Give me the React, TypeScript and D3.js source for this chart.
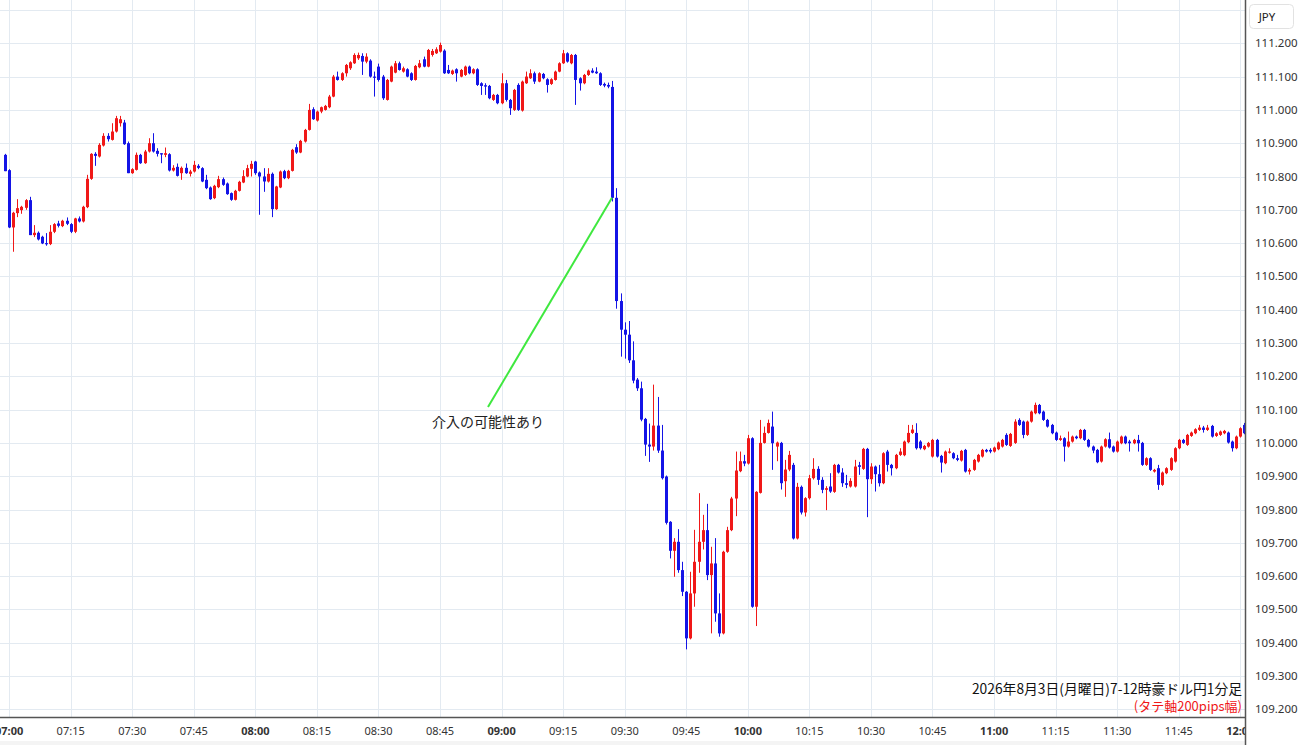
import { useEffect, useRef } from 'react';
import * as d3 from 'd3';

// one bar = [open, high, low, close], 1 minute each
type Bar = [number, number, number, number];

// first bar is 06:59, then 07:00 ... 07:59
const bars07: Bar[] = [
  [110.865, 110.868, 110.816, 110.816], [110.819, 110.822, 110.645, 110.647], [110.647, 110.694, 110.574, 110.691],
  [110.690, 110.732, 110.678, 110.705], [110.699, 110.712, 110.688, 110.709], [110.706, 110.732, 110.700, 110.729],
  [110.729, 110.739, 110.624, 110.624], [110.624, 110.654, 110.618, 110.631], [110.631, 110.635, 110.608, 110.611],
  [110.619, 110.622, 110.597, 110.599], [110.600, 110.630, 110.592, 110.597], [110.597, 110.654, 110.594, 110.634],
  [110.634, 110.660, 110.630, 110.657], [110.659, 110.667, 110.647, 110.652], [110.651, 110.670, 110.648, 110.667],
  [110.667, 110.677, 110.654, 110.658], [110.657, 110.660, 110.630, 110.634], [110.634, 110.676, 110.630, 110.674],
  [110.674, 110.680, 110.662, 110.665], [110.665, 110.712, 110.662, 110.709], [110.708, 110.805, 110.705, 110.793],
  [110.793, 110.870, 110.790, 110.868], [110.868, 110.873, 110.832, 110.862], [110.860, 110.900, 110.857, 110.895],
  [110.893, 110.930, 110.890, 110.922], [110.922, 110.930, 110.905, 110.912], [110.910, 110.960, 110.908, 110.935],
  [110.935, 110.982, 110.932, 110.975], [110.960, 110.982, 110.950, 110.972], [110.962, 110.970, 110.895, 110.897],
  [110.900, 110.905, 110.810, 110.810], [110.810, 110.825, 110.808, 110.822], [110.820, 110.872, 110.818, 110.865],
  [110.865, 110.868, 110.838, 110.840], [110.840, 110.880, 110.838, 110.875], [110.875, 110.915, 110.872, 110.900],
  [110.900, 110.930, 110.872, 110.875], [110.877, 110.885, 110.860, 110.868], [110.870, 110.870, 110.840, 110.866],
  [110.865, 110.887, 110.858, 110.870], [110.867, 110.870, 110.815, 110.818], [110.818, 110.834, 110.815, 110.826],
  [110.829, 110.839, 110.800, 110.802], [110.810, 110.830, 110.790, 110.826], [110.826, 110.839, 110.808, 110.810],
  [110.808, 110.820, 110.800, 110.815], [110.815, 110.847, 110.812, 110.835], [110.832, 110.837, 110.822, 110.826],
  [110.825, 110.828, 110.783, 110.785], [110.790, 110.805, 110.762, 110.765], [110.767, 110.770, 110.730, 110.732],
  [110.735, 110.775, 110.732, 110.772], [110.768, 110.802, 110.765, 110.792], [110.792, 110.797, 110.772, 110.775],
  [110.779, 110.782, 110.745, 110.747], [110.750, 110.752, 110.727, 110.730], [110.730, 110.760, 110.728, 110.757],
  [110.757, 110.787, 110.755, 110.784], [110.782, 110.819, 110.780, 110.801], [110.800, 110.835, 110.798, 110.825],
  [110.823, 110.847, 110.800, 110.838],
];

const bars08: Bar[] = [
  [110.845, 110.847, 110.805, 110.810], [110.812, 110.815, 110.685, 110.800], [110.800, 110.825, 110.754, 110.785],
  [110.785, 110.825, 110.782, 110.808], [110.808, 110.812, 110.678, 110.702], [110.702, 110.772, 110.700, 110.770],
  [110.767, 110.818, 110.765, 110.815], [110.816, 110.820, 110.792, 110.795], [110.795, 110.820, 110.792, 110.817],
  [110.817, 110.883, 110.815, 110.880], [110.888, 110.897, 110.868, 110.872], [110.872, 110.910, 110.870, 110.907],
  [110.905, 110.943, 110.902, 110.940], [110.940, 111.018, 110.938, 111.000], [111.002, 111.008, 110.970, 110.972],
  [110.968, 110.998, 110.965, 110.995], [110.995, 111.010, 110.990, 111.008], [111.000, 111.015, 110.998, 111.012],
  [111.008, 111.045, 111.005, 111.040], [111.040, 111.105, 111.038, 111.100], [111.100, 111.115, 111.088, 111.090],
  [111.090, 111.113, 111.087, 111.110], [111.110, 111.138, 111.100, 111.135], [111.125, 111.146, 111.120, 111.143],
  [111.140, 111.170, 111.138, 111.165], [111.155, 111.172, 111.150, 111.165], [111.162, 111.170, 111.105, 111.145],
  [111.145, 111.170, 111.140, 111.160], [111.148, 111.152, 111.097, 111.100], [111.100, 111.115, 111.040, 111.097],
  [111.130, 111.139, 111.085, 111.090], [111.100, 111.105, 111.030, 111.035], [111.030, 111.093, 111.028, 111.090],
  [111.085, 111.133, 111.083, 111.130], [111.112, 111.147, 111.110, 111.140], [111.140, 111.145, 111.118, 111.120],
  [111.115, 111.130, 111.112, 111.125], [111.122, 111.125, 111.098, 111.100], [111.110, 111.113, 111.087, 111.090],
  [111.090, 111.135, 111.088, 111.132], [111.128, 111.150, 111.125, 111.140], [111.152, 111.160, 111.128, 111.130],
  [111.130, 111.183, 111.128, 111.180], [111.165, 111.183, 111.160, 111.177], [111.170, 111.188, 111.168, 111.182],
  [111.175, 111.202, 111.172, 111.195], [111.178, 111.182, 111.108, 111.110], [111.120, 111.135, 111.108, 111.110],
  [111.108, 111.121, 111.105, 111.118], [111.122, 111.125, 111.085, 111.110], [111.100, 111.123, 111.098, 111.120],
  [111.105, 111.133, 111.102, 111.130], [111.130, 111.133, 111.107, 111.110], [111.110, 111.125, 111.107, 111.122],
  [111.122, 111.125, 111.072, 111.075], [111.080, 111.083, 111.045, 111.072], [111.074, 111.080, 111.045, 111.070],
  [111.072, 111.075, 111.032, 111.035], [111.030, 111.048, 111.027, 111.045], [111.045, 111.048, 111.017, 111.020],
];

const bars09: Bar[] = [
  [111.020, 111.110, 111.017, 111.080], [111.080, 111.090, 111.025, 111.030], [111.030, 111.033, 110.985, 111.005],
  [111.000, 111.063, 110.997, 111.060], [111.075, 111.080, 110.997, 111.000], [110.998, 111.088, 110.995, 111.085],
  [111.080, 111.115, 111.078, 111.100], [111.095, 111.122, 111.093, 111.110], [111.110, 111.115, 111.078, 111.085],
  [111.085, 111.113, 111.083, 111.110], [111.108, 111.111, 111.092, 111.095], [111.092, 111.095, 111.052, 111.075],
  [111.078, 111.095, 111.075, 111.092], [111.090, 111.118, 111.088, 111.115], [111.115, 111.143, 111.113, 111.140],
  [111.140, 111.180, 111.138, 111.170], [111.170, 111.173, 111.142, 111.145], [111.140, 111.168, 111.137, 111.165],
  [111.165, 111.168, 111.015, 111.090], [111.095, 111.098, 111.058, 111.080], [111.080, 111.108, 111.077, 111.105],
  [111.105, 111.121, 111.102, 111.118], [111.118, 111.125, 111.110, 111.112], [111.115, 111.128, 111.108, 111.110],
  [111.110, 111.113, 111.072, 111.075], [111.078, 111.082, 111.068, 111.073], [111.075, 111.082, 111.065, 111.070],
  [111.069, 111.087, 110.725, 110.736], [110.736, 110.765, 110.403, 110.426], [110.426, 110.449, 110.259, 110.340],
  [110.340, 110.362, 110.253, 110.325], [110.325, 110.366, 110.240, 110.248], [110.248, 110.305, 110.179, 110.187],
  [110.190, 110.195, 110.156, 110.164], [110.164, 110.184, 110.065, 110.070], [110.072, 110.075, 109.961, 109.995],
  [109.995, 110.058, 109.943, 109.989], [109.989, 110.175, 109.977, 110.052], [110.052, 110.138, 109.970, 109.977],
  [109.977, 110.054, 109.890, 109.894], [109.899, 109.902, 109.755, 109.760], [109.763, 109.765, 109.653, 109.676],
  [109.676, 109.714, 109.598, 109.703], [109.703, 109.741, 109.610, 109.618], [109.618, 109.643, 109.540, 109.553],
  [109.553, 109.555, 109.380, 109.413], [109.413, 109.613, 109.410, 109.548], [109.548, 109.739, 109.508, 109.643],
  [109.643, 109.849, 109.610, 109.703], [109.703, 109.784, 109.680, 109.738], [109.738, 109.817, 109.588, 109.603],
  [109.603, 109.688, 109.428, 109.638], [109.638, 109.714, 109.463, 109.488], [109.488, 109.548, 109.418, 109.428],
  [109.428, 109.676, 109.425, 109.673], [109.673, 109.748, 109.670, 109.738], [109.738, 109.838, 109.735, 109.833],
  [109.833, 109.974, 109.780, 109.917], [109.915, 109.974, 109.912, 109.945], [109.945, 109.964, 109.930, 109.938],
];

const bars10: Bar[] = [
  [109.938, 110.024, 109.935, 110.014], [110.014, 110.017, 109.505, 109.508], [109.508, 109.855, 109.450, 109.853],
  [109.850, 110.069, 109.848, 110.000], [110.000, 110.049, 109.998, 110.030], [110.030, 110.070, 110.028, 110.060],
  [110.049, 110.094, 109.919, 109.999], [109.989, 110.004, 109.945, 110.001], [110.000, 110.003, 109.860, 109.879],
  [109.885, 109.949, 109.838, 109.920], [109.920, 109.976, 109.915, 109.964], [109.934, 109.940, 109.710, 109.713],
  [109.713, 109.880, 109.710, 109.868], [109.868, 109.872, 109.785, 109.791], [109.791, 109.837, 109.779, 109.834],
  [109.834, 109.904, 109.830, 109.894], [109.894, 109.954, 109.890, 109.922], [109.922, 109.930, 109.874, 109.889],
  [109.889, 109.897, 109.849, 109.859], [109.859, 109.870, 109.798, 109.864], [109.869, 109.909, 109.850, 109.854],
  [109.853, 109.937, 109.850, 109.934], [109.934, 109.937, 109.908, 109.911], [109.911, 109.924, 109.868, 109.879],
  [109.879, 109.904, 109.864, 109.874], [109.869, 109.894, 109.866, 109.886], [109.869, 109.949, 109.866, 109.929],
  [109.933, 109.943, 109.904, 109.928], [109.922, 109.985, 109.919, 109.982], [109.982, 109.985, 109.777, 109.891],
  [109.891, 109.939, 109.877, 109.929], [109.929, 109.932, 109.854, 109.906], [109.906, 109.934, 109.869, 109.879],
  [109.879, 109.972, 109.876, 109.969], [109.974, 109.979, 109.914, 109.934], [109.934, 109.937, 109.902, 109.924],
  [109.924, 109.967, 109.921, 109.964], [109.964, 109.984, 109.961, 109.974], [109.963, 110.007, 109.960, 110.004],
  [110.002, 110.054, 109.999, 110.030], [110.030, 110.054, 110.027, 110.040], [110.030, 110.059, 109.980, 109.984],
  [110.004, 110.008, 109.980, 109.984], [109.981, 109.994, 109.978, 109.991], [109.989, 110.003, 109.986, 110.000],
  [109.959, 110.012, 109.956, 110.009], [110.009, 110.012, 109.956, 109.959], [109.961, 109.964, 109.911, 109.941],
  [109.939, 109.977, 109.936, 109.974], [109.971, 109.984, 109.968, 109.974], [109.969, 109.972, 109.951, 109.954],
  [109.954, 109.964, 109.945, 109.949], [109.947, 109.979, 109.944, 109.976], [109.979, 109.982, 109.911, 109.914],
  [109.914, 109.924, 109.905, 109.919], [109.919, 109.952, 109.916, 109.949], [109.944, 109.967, 109.941, 109.964],
  [109.959, 109.982, 109.956, 109.979], [109.979, 109.982, 109.971, 109.974], [109.979, 109.984, 109.969, 109.974],
];

const bars11: Bar[] = [
  [109.974, 109.989, 109.971, 109.986], [109.981, 110.004, 109.978, 110.001], [109.989, 110.012, 109.986, 110.009],
  [110.024, 110.029, 109.991, 109.994], [109.991, 110.030, 109.988, 110.027], [110.000, 110.071, 109.997, 110.064],
  [110.069, 110.074, 110.051, 110.054], [110.064, 110.067, 110.014, 110.024], [110.024, 110.067, 110.021, 110.064],
  [110.064, 110.097, 110.061, 110.094], [110.089, 110.121, 110.086, 110.114], [110.114, 110.117, 110.086, 110.089],
  [110.094, 110.097, 110.066, 110.069], [110.069, 110.072, 110.046, 110.049], [110.054, 110.057, 110.026, 110.029],
  [110.031, 110.034, 110.006, 110.009], [110.009, 110.022, 110.006, 110.014], [110.014, 110.017, 109.944, 109.989],
  [109.989, 110.034, 109.986, 110.004], [110.004, 110.022, 110.001, 110.019], [110.019, 110.022, 110.011, 110.014],
  [110.014, 110.042, 110.011, 110.039], [110.039, 110.042, 110.006, 110.009], [110.009, 110.012, 109.986, 109.989],
  [109.989, 109.992, 109.969, 109.977], [109.979, 109.982, 109.939, 109.942], [109.944, 109.992, 109.941, 109.989],
  [109.989, 110.014, 109.986, 110.011], [110.011, 110.031, 109.983, 109.986], [109.989, 109.992, 109.971, 109.974],
  [109.974, 110.007, 109.971, 110.004], [109.999, 110.022, 109.996, 110.019], [110.019, 110.022, 109.996, 109.999],
  [110.004, 110.009, 109.974, 109.999], [109.999, 110.012, 109.996, 110.009], [110.009, 110.024, 109.974, 109.999],
  [110.000, 110.003, 109.931, 109.934], [109.934, 109.957, 109.931, 109.954], [109.954, 109.957, 109.916, 109.919],
  [109.914, 109.922, 109.911, 109.919], [109.924, 109.934, 109.859, 109.874], [109.874, 109.914, 109.871, 109.911],
  [109.909, 109.927, 109.906, 109.924], [109.919, 109.957, 109.916, 109.954], [109.944, 109.987, 109.941, 109.984],
  [109.984, 110.012, 109.981, 110.009], [110.009, 110.012, 109.997, 110.000], [109.994, 110.027, 109.991, 110.024],
  [110.021, 110.034, 110.018, 110.031], [110.029, 110.044, 110.026, 110.041], [110.039, 110.054, 110.036, 110.046],
  [110.046, 110.051, 110.031, 110.039], [110.039, 110.054, 110.036, 110.046], [110.051, 110.054, 110.016, 110.019],
  [110.021, 110.032, 110.018, 110.029], [110.024, 110.037, 110.021, 110.034], [110.029, 110.039, 110.026, 110.036],
  [110.031, 110.034, 109.998, 110.001], [110.004, 110.007, 109.974, 109.984], [109.984, 110.022, 109.981, 110.019],
];

const bars12: Bar[] = [
  [110.019, 110.047, 110.016, 110.044], [110.054, 110.060, 110.026, 110.029],
];

const priceTicks = [109.2, 109.3, 109.4, 109.5, 109.6, 109.7, 109.8, 109.9, 110.0, 110.1, 110.2, 110.3, 110.4, 110.5, 110.6, 110.7, 110.8, 110.9, 111.0, 111.1, 111.2];

const titleText = '2026年8月3日(月曜日)7-12時豪ドル円1分足';
const subText = '(タテ軸200pips幅)';
const noteText = '介入の可能性あり';
const noteBarTime = '09:27';

const W = 1300;
const H = 745;
const axisX = 1245;
const axisY = 717;

export default function App() {
  const svgRef = useRef<SVGSVGElement>(null);

  useEffect(() => {
    const svg = d3.select(svgRef.current);
    svg.selectAll('*').remove();

    const bars = [...bars07, ...bars08, ...bars09, ...bars10, ...bars11, ...bars12];
    const firstBar = new Date(2026, 7, 3, 6, 59);
    const data = bars.map((b, i) => ({
      t: d3.timeMinute.offset(firstBar, i),
      o: b[0], h: b[1], l: b[2], c: b[3],
    }));

    const x = d3.scaleTime()
      .domain([new Date(2026, 7, 3, 7, 0), new Date(2026, 7, 3, 12, 0)])
      .range([9.1, 1240.3]);
    const y = d3.scaleLinear().domain([109.2, 111.2]).range([709.3, 43.3]);

    svg.append('rect').attr('width', W).attr('height', H).attr('fill', '#ffffff');
    svg.append('rect').attr('x', 0).attr('y', 741).attr('width', W).attr('height', 4).attr('fill', '#f4f4f4');

    // grid
    const grid = svg.append('g').attr('stroke', '#e3eaf1').attr('stroke-width', 1);
    [...priceTicks, 111.3].forEach(p => {
      const yy = Math.round(y(p)) + 0.5;
      grid.append('line').attr('x1', 0).attr('x2', axisX).attr('y1', yy).attr('y2', yy);
    });
    const timeTicks = x.ticks(d3.timeMinute.every(15)!);
    timeTicks.forEach(t => {
      const xx = Math.round(x(t)) + 0.5;
      grid.append('line').attr('x1', xx).attr('x2', xx).attr('y1', 0).attr('y2', axisY);
    });

    // candles
    const up = '#f01818';
    const down = '#1414e6';
    const candles = svg.append('g');
    data.forEach(d => {
      const cx = Math.round(x(d.t));
      const color = d.c >= d.o ? up : down;
      candles.append('line')
        .attr('x1', cx + 0.5).attr('x2', cx + 0.5)
        .attr('y1', y(d.h)).attr('y2', y(d.l))
        .attr('stroke', color).attr('stroke-width', 1);
      const top = y(Math.max(d.o, d.c));
      const bot = y(Math.min(d.o, d.c));
      candles.append('rect')
        .attr('x', cx - 1).attr('width', 3)
        .attr('y', top).attr('height', Math.max(1.2, bot - top))
        .attr('fill', color);
    });

    // annotation
    const noteBar = data.find(d => d3.timeFormat('%H:%M')(d.t) === noteBarTime)!;
    svg.append('line')
      .attr('x1', 488).attr('y1', 407)
      .attr('x2', Math.round(x(noteBar.t))).attr('y2', y(noteBar.c))
      .attr('stroke', '#3fe83f').attr('stroke-width', 2);
    svg.append('text')
      .attr('x', 488).attr('y', 427)
      .attr('text-anchor', 'middle')
      .style('font-family', '"Noto Sans CJK JP", sans-serif')
      .style('font-size', '14px')
      .style('fill', '#222')
      .text(noteText);

    // title bottom right
    svg.append('text')
      .attr('x', 1242).attr('y', 694)
      .attr('text-anchor', 'end')
      .style('font-family', '"Noto Sans CJK JP", sans-serif')
      .style('font-size', '13.8px')
      .style('fill', '#111')
      .text(titleText);
    svg.append('text')
      .attr('x', 1242).attr('y', 711)
      .attr('text-anchor', 'end')
      .style('font-family', '"Noto Sans CJK JP", sans-serif')
      .style('font-size', '13px')
      .style('fill', '#f01818')
      .text(subText);

    // bottom axis
    svg.append('line')
      .attr('x1', 0).attr('x2', axisX).attr('y1', axisY + 0.5).attr('y2', axisY + 0.5)
      .attr('stroke', '#555').attr('stroke-width', 1.5);
    const fmt = d3.timeFormat('%H:%M');
    svg.append('g').selectAll('text')
      .data(timeTicks)
      .enter().append('text')
      .attr('x', d => x(d))
      .attr('y', 735)
      .attr('text-anchor', 'middle')
      .style('font-family', '"Noto Sans", sans-serif')
      .style('font-size', '11px')
      .style('font-weight', d => (d.getMinutes() === 0 ? '700' : '400'))
      .style('fill', '#333')
      .text(d => fmt(d));

    // right axis panel
    svg.append('rect').attr('x', axisX).attr('y', 0).attr('width', W - axisX).attr('height', H).attr('fill', '#ffffff');
    svg.append('line')
      .attr('x1', axisX + 0.5).attr('x2', axisX + 0.5).attr('y1', 0).attr('y2', H)
      .attr('stroke', '#555').attr('stroke-width', 1.5);
    svg.append('g').selectAll('text')
      .data(priceTicks)
      .enter().append('text')
      .attr('x', 1255)
      .attr('y', d => y(d) + 4)
      .style('font-family', '"Noto Sans", sans-serif')
      .style('font-size', '11.5px')
      .style('fill', '#333')
      .text(d => d.toFixed(3));

    svg.append('rect')
      .attr('x', 1249.5).attr('y', 4.5).attr('width', 44).attr('height', 24).attr('rx', 4)
      .attr('fill', '#fff').attr('stroke', '#e2e2e2');
    svg.append('text')
      .attr('x', 1267).attr('y', 21)
      .attr('text-anchor', 'middle')
      .style('font-family', '"Noto Sans", sans-serif')
      .style('font-size', '11.5px')
      .style('fill', '#222')
      .text('JPY');
  }, []);

  return (
    <svg
      ref={svgRef}
      width={W}
      height={H}
      style={{ position: 'absolute', left: 0, top: 0, display: 'block' }}
    />
  );
}
